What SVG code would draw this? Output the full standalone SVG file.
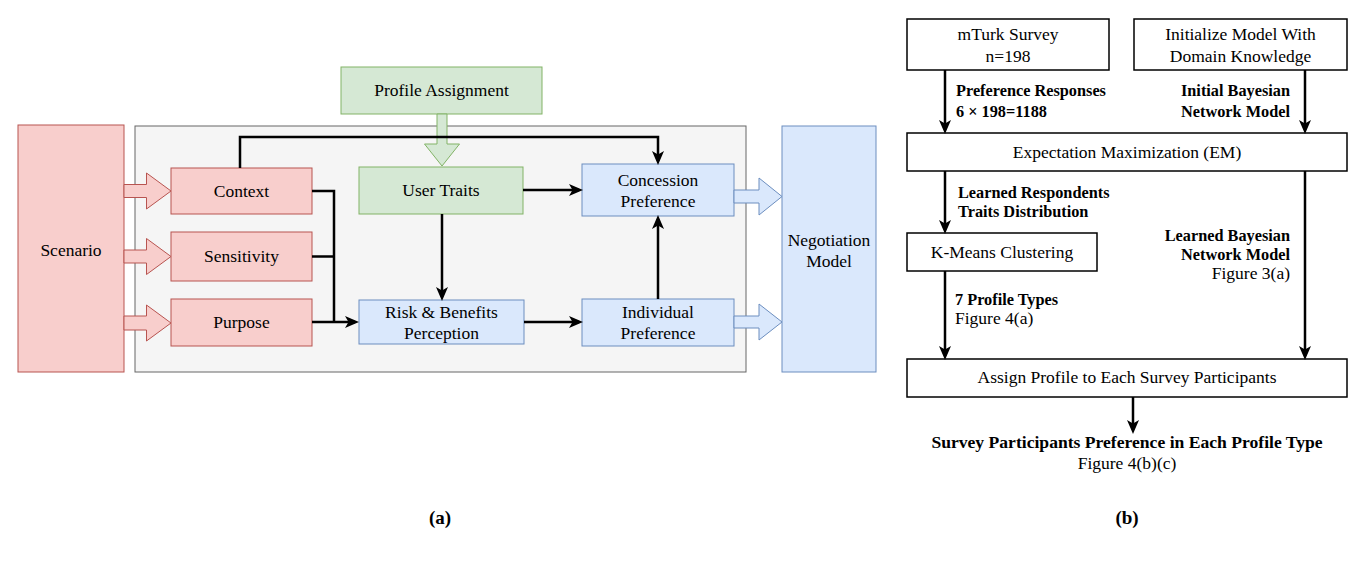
<svg xmlns="http://www.w3.org/2000/svg" width="1360" height="567" viewBox="0 0 1360 567">
<defs>
<style>
.t{font-family:"Liberation Serif","Times New Roman",serif;font-size:17.5px;fill:#000;text-anchor:middle}
.b{font-family:"Liberation Serif","Times New Roman",serif;font-size:16.3px;font-weight:bold;fill:#000}
.bb{font-family:"Liberation Serif","Times New Roman",serif;font-size:17.6px;font-weight:bold;fill:#000;text-anchor:middle}
.r{font-family:"Liberation Serif","Times New Roman",serif;font-size:17.5px;fill:#000}
.cap{font-family:"Liberation Serif","Times New Roman",serif;font-size:19px;font-weight:bold;fill:#000;text-anchor:middle}
.pink{fill:#f8cecc;stroke:#b85450;stroke-width:1}
.green{fill:#d5e8d4;stroke:#82b366;stroke-width:1}
.blue{fill:#dae8fc;stroke:#6c8ebf;stroke-width:1}
.gray{fill:#f5f5f5;stroke:#666666;stroke-width:1}
.box{fill:#fff;stroke:#000;stroke-width:1.5}
.edge{fill:none;stroke:#000;stroke-width:2.5}
</style>
<marker id="ah" viewBox="0 0 14 12" markerUnits="userSpaceOnUse" markerWidth="14" markerHeight="12" refX="10" refY="6" orient="auto">
<path d="M0,0 L14,6 L0,12 L3.5,6 z" fill="#000"/>
</marker>
</defs>

<g id="container"><rect class="gray" x="135" y="126" width="611" height="246"/></g>

<g id="scenario"><rect class="pink" x="18" y="125" width="106" height="247"/><text class="t" x="71" y="256">Scenario</text></g>
<g id="context"><rect class="pink" x="171" y="168" width="141" height="46"/><text class="t" x="241.5" y="197">Context</text></g>
<g id="sensitivity"><rect class="pink" x="171" y="232" width="141" height="49"/><text class="t" x="241.5" y="262">Sensitivity</text></g>
<g id="purpose"><rect class="pink" x="171" y="299" width="141" height="47"/><text class="t" x="241.5" y="328">Purpose</text></g>
<g id="profile-assignment"><rect class="green" x="341" y="67" width="201" height="47"/><text class="t" x="441.5" y="96">Profile Assignment</text></g>
<g id="user-traits"><rect class="green" x="359" y="167" width="164" height="47"/><text class="t" x="441" y="196">User Traits</text></g>
<g id="risk"><rect class="blue" x="359" y="300" width="165" height="44"/><text class="t" x="441.5" y="318">Risk &amp; Benefits</text><text class="t" x="441.5" y="339">Perception</text></g>
<g id="concession"><rect class="blue" x="582" y="164" width="152" height="52"/><text class="t" x="658" y="186">Concession</text><text class="t" x="658" y="207">Preference</text></g>
<g id="individual"><rect class="blue" x="582" y="299" width="152" height="47"/><text class="t" x="658" y="318">Individual</text><text class="t" x="658" y="339">Preference</text></g>
<g id="negotiation"><rect class="blue" x="782" y="126" width="94" height="246"/><text class="t" x="829" y="246">Negotiation</text><text class="t" x="829" y="267">Model</text></g>

<g id="block-arrows">
<polygon class="pink" points="124,184.5 146.5,184.5 146.5,173 171,191 146.5,209 146.5,197.5 124,197.5"/>
<polygon class="pink" points="124,250 146.5,250 146.5,238.5 171,256.5 146.5,274.5 146.5,263 124,263"/>
<polygon class="pink" points="124,316 146.5,316 146.5,305 171,323 146.5,341 146.5,330 124,330"/>
<polygon class="green" points="437,114 447,114 447,144 459.5,144 442,166 424.5,144 437,144"/>
<polygon class="blue" points="734,190 759,190 759,178 782,196.5 759,215 759,203 734,203"/>
<polygon class="blue" points="734,316 759,316 759,304 782,322 759,340 759,328 734,328"/>
</g>

<g id="mturk"><rect class="box" x="907" y="19" width="202" height="51"/><text class="t" x="1008" y="40">mTurk Survey</text><text class="t" x="1008" y="62">n=198</text></g>
<g id="init-model"><rect class="box" x="1134" y="19" width="213" height="51"/><text class="t" x="1240.5" y="40">Initialize Model With</text><text class="t" x="1240.5" y="62">Domain Knowledge</text></g>
<g id="em"><rect class="box" x="907" y="133" width="440" height="38"/><text class="t" x="1127" y="158">Expectation Maximization (EM)</text></g>
<g id="kmeans"><rect class="box" x="907" y="233" width="190" height="38"/><text class="t" x="1002" y="258">K-Means Clustering</text></g>
<g id="assign"><rect class="box" x="907" y="359" width="440" height="38"/><text class="t" x="1127" y="383">Assign Profile to Each Survey Participants</text></g>
<g id="result"><text class="bb" x="1127" y="448">Survey Participants Preference in Each Profile Type</text><text class="t" x="1127" y="469">Figure 4(b)(c)</text></g>

<g id="connectors">
<path class="edge" d="M312,191 H334 V322"/>
<path class="edge" d="M312,256.5 H334"/>
<path class="edge" d="M312,322 H355" marker-end="url(#ah)"/>
<path class="edge" d="M240,168 V137 H658 V161" marker-end="url(#ah)"/>
<path class="edge" d="M523,190 H579" marker-end="url(#ah)"/>
<path class="edge" d="M442,214 V297" marker-end="url(#ah)"/>
<path class="edge" d="M524,322 H579" marker-end="url(#ah)"/>
<path class="edge" d="M658,299 V219" marker-end="url(#ah)"/>
<path class="edge" d="M945,70 V130" marker-end="url(#ah)"/>
<path class="edge" d="M1305,70 V130" marker-end="url(#ah)"/>
<path class="edge" d="M945,171 V230" marker-end="url(#ah)"/>
<path class="edge" d="M945,271 V356" marker-end="url(#ah)"/>
<path class="edge" d="M1305,171 V356" marker-end="url(#ah)"/>
<path class="edge" d="M1133,397 V430" marker-end="url(#ah)"/>
</g>

<g id="edge-labels">
<text class="b" x="956" y="96">Preference Responses</text>
<text class="b" x="956" y="117">6 × 198=1188</text>
<text class="b" x="1290" y="96" text-anchor="end">Initial Bayesian</text>
<text class="b" x="1290" y="117" text-anchor="end">Network Model</text>
<text class="b" x="958" y="198">Learned Respondents</text>
<text class="b" x="958" y="217">Traits Distribution</text>
<text class="b" x="1290" y="241" text-anchor="end">Learned Bayesian</text>
<text class="b" x="1290" y="260" text-anchor="end">Network Model</text>
<text class="r" x="1290" y="279" text-anchor="end">Figure 3(a)</text>
<text class="b" x="955" y="305">7 Profile Types</text>
<text class="r" x="955" y="324">Figure 4(a)</text>
</g>

<g id="captions">
<text class="cap" x="440" y="524">(a)</text>
<text class="cap" x="1127" y="524">(b)</text>
</g>
</svg>
